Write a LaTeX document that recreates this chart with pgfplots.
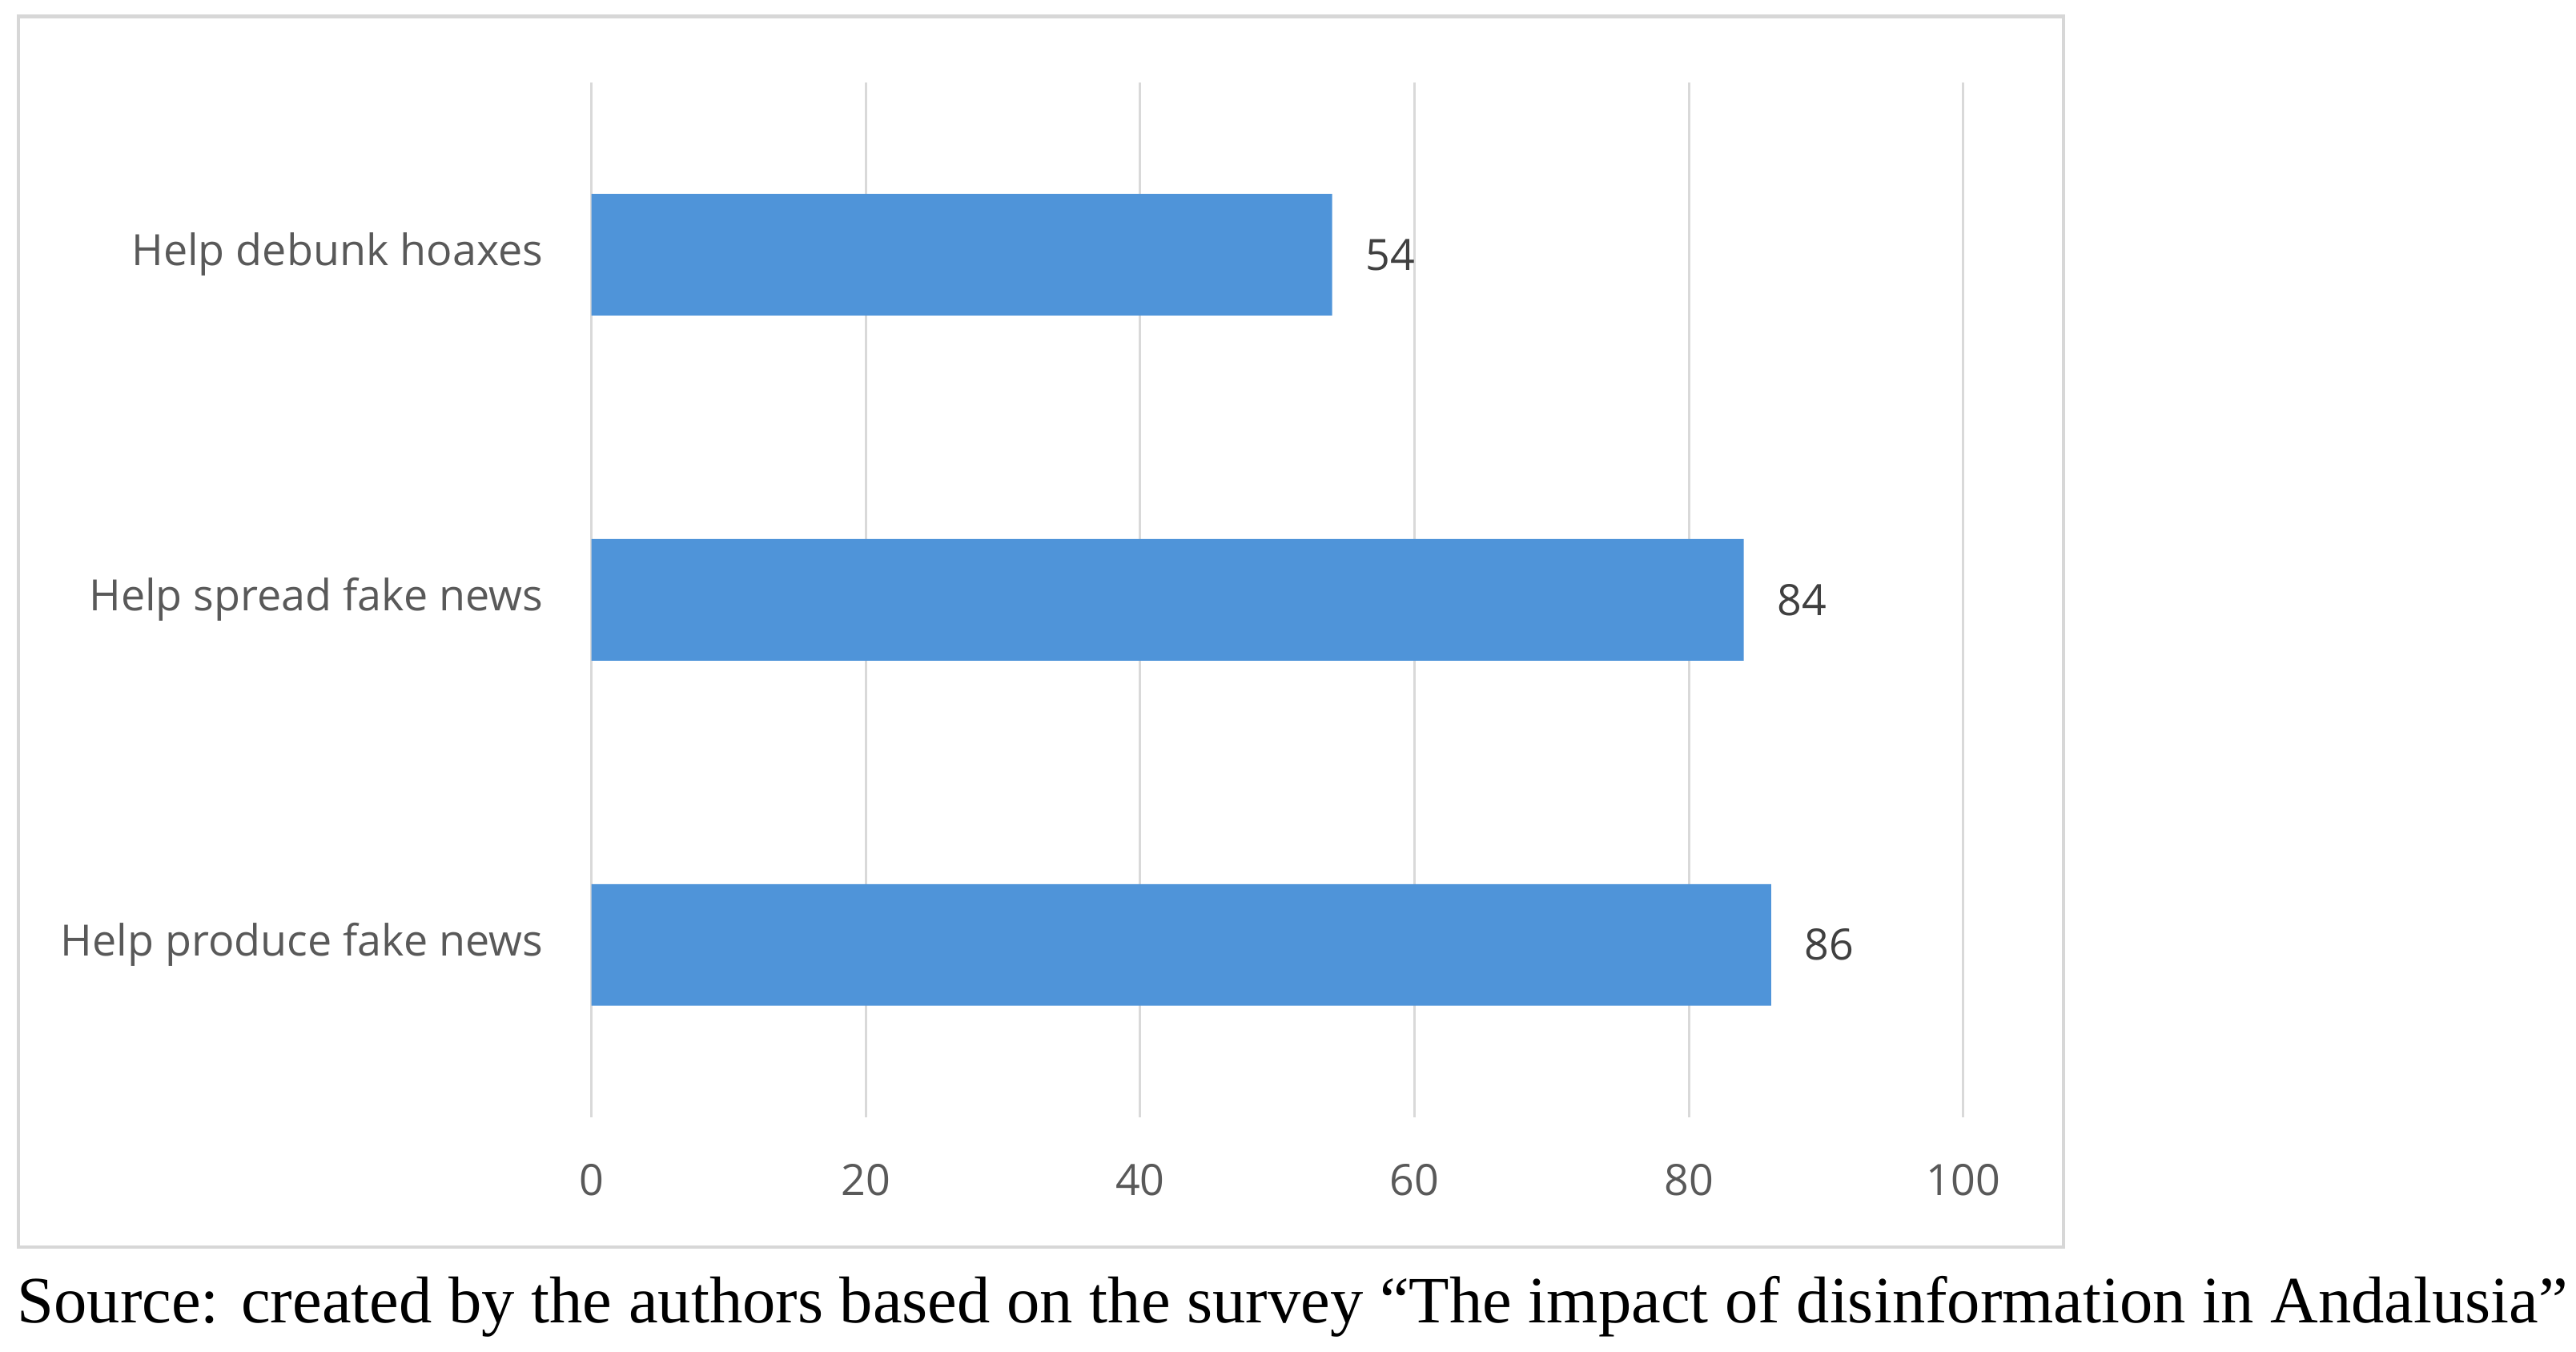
\documentclass[border=0pt]{standalone}
\usepackage{pgfplots}
\pgfplotsset{compat=1.18}
\usepackage{fontspec}
\setmainfont{Open Sans}
\newfontfamily\srcfont{Liberation Serif}
\definecolor{barblue}{RGB}{79,148,217}
\definecolor{lblgray}{RGB}{89,89,89}
\definecolor{valgray}{RGB}{64,64,64}
\definecolor{gridgray}{RGB}{217,217,217}
\definecolor{framegray}{RGB}{215,215,215}
\begin{document}
\begin{tikzpicture}
\useasboundingbox (-144pt,-57pt) rectangle (483.2pt,272pt);
\draw[framegray, line width=0.8pt] (-139.6pt,-31.6pt) rectangle (358.4pt,268pt);
\begin{axis}[
  at={(0,0)}, anchor=south west,
  scale only axis,
  width=334pt, height=252pt,
  xbar, bar width=29.6pt,
  xmin=0, xmax=100,
  ymin=-0.5, ymax=2.5,
  xtick={0,20,40,60,80,100},
  ytick={0,1,2},
  yticklabels={Help produce fake news, Help spread fake news, Help debunk hoaxes},
  axis line style={draw=none},
  major tick length=0pt,
  xmajorgrids, ymajorgrids=false,
  grid style={gridgray, line width=0.6pt},
  /pgf/number format/assume math mode=true,
  ticklabel style={font=\fontsize{10.5}{12}\selectfont, text=lblgray, inner sep=0pt},
  xticklabel style={anchor=center, yshift=-15.2pt},
  yticklabel style={anchor=east, xshift=-11.6pt},
  nodes near coords,
  nodes near coords style={anchor=west, xshift=8pt, inner sep=0pt, text=valgray, font=\fontsize{10.5}{12}\selectfont},
  clip=false,
]
\addplot[fill=barblue, draw=none] coordinates {
  (86,0)
  (84,1)
  (54,2)
};
\end{axis}
\node[anchor=base west, inner sep=0pt, font=\srcfont\fontsize{16.1}{18}\selectfont] at (-140pt,-50pt)
  {Source: created by the authors based on the survey “The impact of disinformation in Andalusia”};
\end{tikzpicture}
\end{document}
